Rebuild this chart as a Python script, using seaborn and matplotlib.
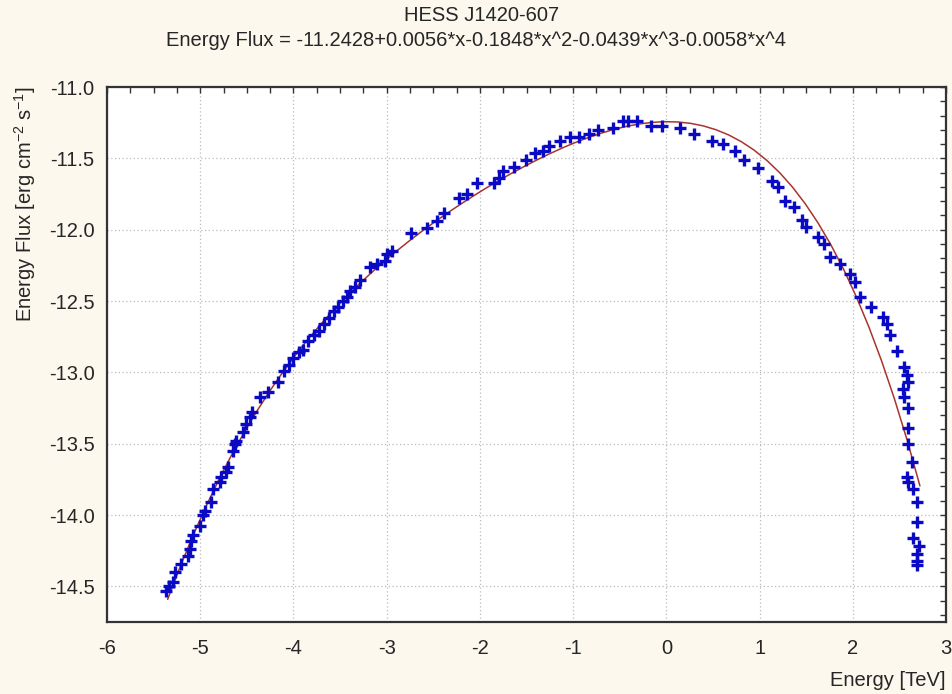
import numpy as np
import seaborn as sns
import matplotlib.pyplot as plt
from matplotlib.ticker import MultipleLocator

# log energy / log energy flux
energy = [
    -5.37, -5.34, -5.29, -5.27, -5.21, -5.13, -5.11, -5.10, -5.08, -5.00,
    -4.97, -4.95, -4.88, -4.86, -4.79, -4.78, -4.72, -4.70, -4.65, -4.63,
    -4.62, -4.54, -4.51, -4.47, -4.45, -4.36, -4.27, -4.17,
    -4.10, -4.05, -4.00, -3.94, -3.90, -3.84, -3.78, -3.73, -3.67, -3.62,
    -3.56, -3.52, -3.47, -3.43,
    -3.39, -3.34, -3.29, -3.18, -3.10, -3.02, -3.00, -2.94, -2.74, -2.57,
    -2.46, -2.39, -2.22, -2.14, -2.03, -1.85, -1.80, -1.75, -1.63, -1.51,
    -1.41, -1.32, -1.26, -1.14, -1.03, -0.94, -0.83, -0.73, -0.57, -0.47,
    -0.41, -0.32, -0.17,
    -0.05, 0.15, 0.30, 0.49, 0.61, 0.74, 0.83, 0.98, 1.13, 1.20,
    1.27, 1.37, 1.46, 1.50, 1.63, 1.69, 1.76, 1.86, 1.97, 2.02,
    2.08, 2.20, 2.32, 2.37, 2.40,
    2.47, 2.55, 2.58, 2.59, 2.54, 2.55, 2.59, 2.59, 2.59, 2.64,
    2.58, 2.59, 2.65, 2.69, 2.69, 2.65, 2.71, 2.69, 2.69, 2.69,
]
flux = [
    -14.53, -14.50, -14.47, -14.40, -14.34, -14.29, -14.24, -14.18, -14.14, -14.08,
    -14.00, -13.97, -13.91, -13.82, -13.77, -13.73, -13.70, -13.66, -13.55, -13.50,
    -13.48, -13.42, -13.36, -13.31, -13.28, -13.17, -13.14, -13.07,
    -12.99, -12.95, -12.90, -12.86, -12.84, -12.78, -12.74, -12.71, -12.66, -12.62,
    -12.57, -12.54, -12.50, -12.47,
    -12.43, -12.40, -12.35, -12.26, -12.24, -12.22, -12.17, -12.15, -12.02, -11.99,
    -11.94, -11.88, -11.78, -11.75, -11.67, -11.67, -11.64, -11.59, -11.56, -11.51,
    -11.46, -11.45, -11.41, -11.38, -11.35, -11.35, -11.33, -11.30, -11.29, -11.24,
    -11.24, -11.24, -11.27,
    -11.27, -11.29, -11.33, -11.38, -11.40, -11.45, -11.51, -11.57, -11.66, -11.70,
    -11.80, -11.84, -11.93, -11.98, -12.05, -12.10, -12.19, -12.24, -12.31, -12.37,
    -12.47, -12.54, -12.61, -12.66, -12.74,
    -12.85, -12.96, -13.02, -13.07, -13.12, -13.17, -13.25, -13.39, -13.50, -13.63,
    -13.73, -13.77, -13.82, -13.91, -14.05, -14.16, -14.22, -14.27, -14.32, -14.35,
]

# polynomial fit coefficients as printed in the subtitle (highest power first)
fit_coefs = [-0.0058, -0.0439, -0.1848, 0.0056, -11.2428]
fit_range = [-5.35, 2.72]

fit_x = np.linspace(fit_range[0], fit_range[1], 60)
fit_y = np.polyval(fit_coefs, fit_x)

sns.set_style("white")
plt.rcParams['font.family'] = ['Liberation Sans', 'DejaVu Sans']
plt.rcParams['mathtext.default'] = 'regular'
plt.rcParams['axes.unicode_minus'] = False

fs = 14.5

fig = plt.figure(figsize=(9.53, 6.94), dpi=100, facecolor="#FCF8EE")
ax = fig.add_axes([0.1123, 0.1037, 0.8804, 0.7709])
ax.set_facecolor("white")

sns.lineplot(x=fit_x, y=fit_y, ax=ax, color="#A8342E", linewidth=1.1,
             sort=False, estimator=None, zorder=2)
sns.scatterplot(x=energy, y=flux, ax=ax, marker="+", s=85, color="#0A0AC4",
                linewidth=2.4, zorder=3)

ax.set_xlim(-6, 3)
ax.set_ylim(-14.75, -11.0)
ax.xaxis.set_major_locator(MultipleLocator(1))
ax.xaxis.set_minor_locator(MultipleLocator(0.25))
ax.yaxis.set_major_locator(MultipleLocator(0.5))
ax.yaxis.set_minor_locator(MultipleLocator(0.1))
ax.yaxis.set_major_formatter(plt.FormatStrFormatter("%.1f"))

ax.grid(True, which="major", color="#BBBBBB", linestyle=(0, (1, 2)), linewidth=0.9)
ax.tick_params(which="both", direction="in", top=True, right=True,
               length=4, width=1, color="#333333", labelsize=fs)
ax.tick_params(axis="x", pad=12)
ax.tick_params(axis="y", pad=9)
for s in ax.spines.values():
    s.set_color("#333333")
    s.set_linewidth(1.6)
    s.set_visible(True)

ax.set_xlabel("")
ax.set_ylabel("")
fig.text(0.505, 0.978, "HESS J1420-607", ha="center", va="center", fontsize=fs)
fig.text(0.500, 0.942,
         "Energy Flux = -11.2428+0.0056*x-0.1848*x^2-0.0439*x^3-0.0058*x^4",
         ha="center", va="center", fontsize=fs)
fig.text(0.026, 0.876, "Energy Flux [erg cm$^{-2}$ s$^{-1}$]", rotation=90,
         ha="center", va="top", fontsize=fs)
fig.text(0.992, 0.02, "Energy [TeV]", ha="right", va="center", fontsize=fs)

fig.savefig("out.png", dpi=100, facecolor=fig.get_facecolor())
